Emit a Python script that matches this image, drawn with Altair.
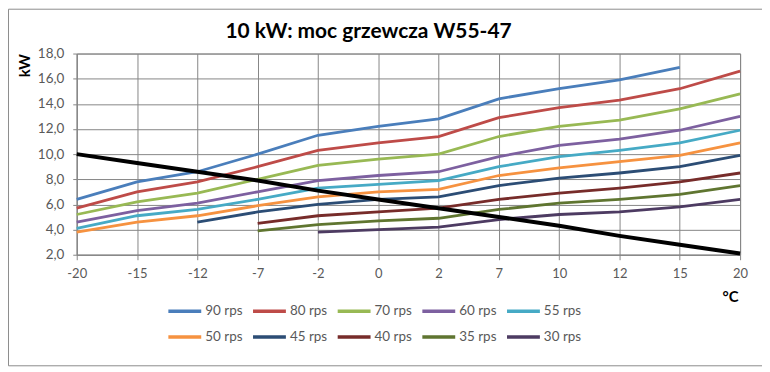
import altair as alt
import pandas as pd

temps = ["-20", "-15", "-12", "-7", "-2", "0", "2", "7", "10", "12", "15", "20"]
series = ["90 rps", "80 rps", "70 rps", "60 rps", "55 rps",
          "50 rps", "45 rps", "40 rps", "35 rps", "30 rps"]
colors = ["#4A7EBB", "#BE4B48", "#98B954", "#7D60A0", "#46AAC5",
          "#F69240", "#2C4D75", "#772C2A", "#5F7530", "#4D3B62"]

v90 = [6.4, 7.8, 8.6, 10.0, 11.5, 12.2, 12.8, 14.4, 15.2, 15.9, 16.9, None]
v80 = [5.7, 7.0, 7.8, 9.0, 10.3, 10.9, 11.4, 12.9, 13.7, 14.3, 15.2, 16.6]
v70 = [5.2, 6.2, 6.9, 8.0, 9.1, 9.6, 10.0, 11.4, 12.2, 12.7, 13.6, 14.8]
v60 = [4.6, 5.5, 6.1, 7.0, 7.9, 8.3, 8.6, 9.8, 10.7, 11.2, 11.9, 13.0]
v55 = [4.1, 5.1, 5.6, 6.4, 7.3, 7.6, 7.9, 9.0, 9.8, 10.3, 10.9, 11.9]
v50 = [3.8, 4.6, 5.1, 5.9, 6.6, 7.0, 7.2, 8.3, 8.9, 9.4, 9.9, 10.9]
v45 = [None, None, 4.6, 5.4, 6.0, 6.4, 6.6, 7.5, 8.1, 8.5, 9.0, 9.9]
v40 = [None, None, None, 4.5, 5.1, 5.4, 5.7, 6.4, 6.9, 7.3, 7.8, 8.5]
v35 = [None, None, None, 3.9, 4.4, 4.7, 4.9, 5.6, 6.1, 6.4, 6.8, 7.5]
v30 = [None, None, None, None, 3.8, 4.0, 4.2, 4.8, 5.2, 5.4, 5.8, 6.4]
load = [10.0, 9.3, 8.6, 7.9, 7.1, 6.4, 5.7, 5.0, 4.3, 3.5, 2.8, 2.1]

title_text = "10 kW: moc grzewcza W55-47"
y_ticks = [2, 4, 6, 8, 10, 12, 14, 16, 18]

all_vals = [v90, v80, v70, v60, v55, v50, v45, v40, v35, v30]

rows = []
for name, vals in zip(series, all_vals):
    for t, v in zip(temps, vals):
        if v is not None:
            rows.append({"t": t, "kW": v, "seria": name})
df = pd.DataFrame(rows)
df_load = pd.DataFrame({"t": temps, "kW": load})

FONT = "Lato"
GRID = "#868686"
LAB = "#595959"

x_enc = alt.X("t:O", sort=temps,
              scale=alt.Scale(type="point", domain=temps, padding=0),
              axis=alt.Axis(title="°C", labelAngle=0, grid=True, gridColor=GRID,
                            domainColor=GRID, tickColor=GRID, tickSize=5,
                            labelPadding=8, labelFont=FONT, labelFontSize=13,
                            labelColor=LAB, labelOverlap=False,
                            titleFont=FONT, titleFontSize=15,
                            titleFontWeight="bold", titleColor="black",
                            titleX=656, titleY=42, titleAlign="center",
                            titleBaseline="middle"))
y_enc = alt.Y("kW:Q",
              scale=alt.Scale(domain=[2, 18], nice=False, zero=False),
              axis=alt.Axis(title="kW", values=y_ticks, tickCount=9,
                            labelExpr="replace(format(datum.value, '.1f'), '.', ',')",
                            labelOverlap=False,
                            grid=True, gridColor=GRID, domainColor=GRID,
                            tickColor=GRID, tickSize=4, labelPadding=9,
                            labelFont=FONT, labelFontSize=13.5, labelColor=LAB,
                            titleFont=FONT, titleFontSize=15, titleFontWeight="bold",
                            titleColor="black", titleAngle=270, titleX=-52,
                            titleY=0, titleAlign="right", titleBaseline="middle"))

lines = alt.Chart(df).mark_line(strokeWidth=2.8).encode(
    x=x_enc,
    y=y_enc,
    color=alt.Color("seria:N",
                    scale=alt.Scale(domain=series, range=colors),
                    legend=alt.Legend(orient="none", legendX=90, legendY=240,
                                      direction="horizontal", columns=5,
                                      symbolType="stroke", symbolSize=1089,
                                      symbolStrokeWidth=3.5, labelFont=FONT,
                                      labelFontSize=13.5, labelColor=LAB,
                                      labelOffset=2, columnPadding=3,
                                      rowPadding=0, title=None)),
    detail="seria:N",
)

black = alt.Chart(df_load).mark_line(strokeWidth=4, color="black").encode(
    x=x_enc,
    y=y_enc,
)

border = alt.Chart(pd.DataFrame({"a": [0]})).mark_rect(
    fill=None, stroke="#8c8c8c", strokeWidth=1
).encode(x=alt.value(-68.5), x2=alt.value(689.5), y=alt.value(-44.5), y2=alt.value(313.5))

title = alt.Chart(pd.DataFrame({"title": [title_text]})).mark_text(
    font=FONT, fontSize=21, fontWeight="bold", color="black",
    align="center", baseline="alphabetic"
).encode(x=alt.value(293), y=alt.value(-16), text="title:N")

chart = alt.layer(border, lines, black, title).properties(
    width=666, height=202,
    padding={"left": 69, "top": 45, "right": 22, "bottom": 113},
    autosize=alt.AutoSizeParams(type="none"),
).configure_view(stroke=GRID)

chart.save("out.html", embed_options={"renderer": "svg", "actions": False})
